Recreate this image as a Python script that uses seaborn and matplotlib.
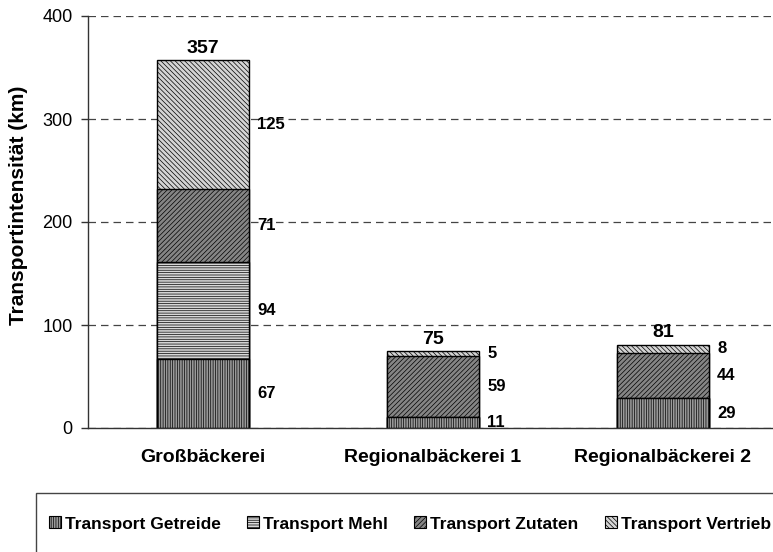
import numpy as np
import pandas as pd
import seaborn as sns
from matplotlib import pyplot as plt
from matplotlib.patches import Rectangle, Patch

betriebe = ['Großbäckerei', 'Regionalbäckerei 1', 'Regionalbäckerei 2']
getreide = [67, 11, 29]
mehl = [94, 0, 0]
zutaten = [71, 59, 44]
vertrieb = [125, 5, 8]
gesamt = [357, 75, 81]

reihen = ['Transport Getreide', 'Transport Mehl', 'Transport Zutaten', 'Transport Vertrieb']
farben = ['#9a9a9a', '#d8d8d8', '#858585', '#d4d4d4']
schraffur = ['|||||||', '-------', '///////', '\\\\\\\\\\\\\\']

sns.set_style('white')
plt.rcParams['font.family'] = ['Liberation Sans', 'DejaVu Sans']
plt.rcParams['hatch.linewidth'] = 0.5
plt.rcParams['hatch.color'] = '#333333'
plt.rcParams['text.color'] = 'black'
plt.rcParams['axes.labelcolor'] = 'black'
plt.rcParams['xtick.color'] = 'black'
plt.rcParams['ytick.color'] = 'black'

werte = np.array([getreide, mehl, zutaten, vertrieb], dtype=float)
kumuliert = werte.cumsum(axis=0)

fig = plt.figure(figsize=(7.73, 5.52), dpi=100)
ax = fig.add_axes([88 / 773, 124 / 552, 690 / 773, 412 / 552])

# von oben nach unten zeichnen, damit die unteren Segmente die oberen verdecken
for i in range(3, -1, -1):
    df = pd.DataFrame({'betrieb': betriebe, 'wert': kumuliert[i]})
    sns.barplot(data=df, x='betrieb', y='wert', color=farben[i], width=0.4,
                edgecolor='black', linewidth=1, ax=ax)
    for patch in ax.containers[-1].patches:
        patch.set_hatch(schraffur[i])
        patch.set_facecolor(farben[i])

ax.set_xlim(-0.5, 2.5)
ax.set_ylim(0, 400)
ax.set_yticks([0, 100, 200, 300, 400])
ax.yaxis.grid(True, linestyle=(0, (6, 4)), color='#444444', linewidth=0.9)
ax.set_axisbelow(True)
sns.despine(ax=ax, top=True, right=True, left=False, bottom=False)
for s in ['left', 'bottom']:
    ax.spines[s].set_color('#333333')
    ax.spines[s].set_linewidth(1)

ax.tick_params(axis='y', which='both', left=True, length=5, width=1, pad=6,
               labelsize=13, color='#333333')
ax.tick_params(axis='x', length=0, labelsize=14, pad=15)
for lbl in ax.get_xticklabels():
    lbl.set_fontweight('bold')

ax.set_xlabel('')
ax.set_ylabel('Transportintensität (km)', fontsize=15, fontweight='bold')
ax.yaxis.set_label_coords(-0.087, 0.54)

# Segmentwerte rechts neben den Balken
for j in range(3):
    unten = 0
    for i in range(4):
        w = werte[i, j]
        if w > 0:
            ax.text(j + 0.235, unten + w / 2, f'{int(w)}', ha='left', va='center',
                    fontsize=12, fontweight='bold')
        unten += w
    ax.text(j, gesamt[j] + 3, f'{gesamt[j]}', ha='center', va='bottom',
            fontsize=14, fontweight='bold')

# Legende mit Rahmen
fig.patches.append(Rectangle((36 / 773, -0.1), 1.0, 59 / 552 + 0.1,
                             transform=fig.transFigure, fill=False,
                             edgecolor='#444444', linewidth=1))
handles = [Patch(facecolor=farben[i], hatch=schraffur[i], edgecolor='black', linewidth=0.8)
           for i in range(4)]
leg = fig.legend(handles, reihen, loc='center left', bbox_to_anchor=(40 / 773, 28 / 552),
                 ncol=4, frameon=False, handlelength=0.69, handleheight=0.69,
                 handletextpad=0.25, columnspacing=1.5, borderpad=0,
                 prop={'weight': 'bold', 'size': 12.5})

fig.savefig('out.png', dpi=100)
